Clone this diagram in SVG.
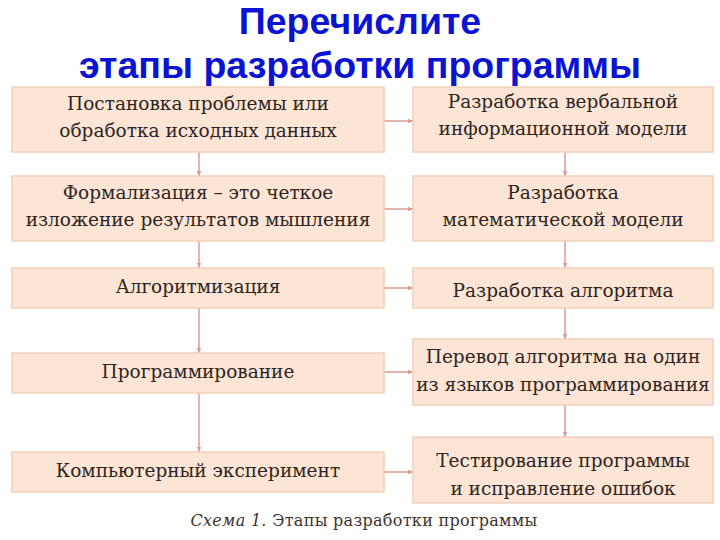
<svg xmlns="http://www.w3.org/2000/svg" width="720" height="540" viewBox="0 0 720 540">
<style>
.title{font-family:"Liberation Sans",Arial,sans-serif;font-weight:bold;font-size:37.5px;fill:#0a14d2;text-anchor:middle}
.box{fill:#fde5d6;stroke:#f1cfbb;stroke-width:1.5}
.t{font-family:"DejaVu Serif","Liberation Serif",serif;font-size:18.5px;fill:#2e2420;text-anchor:middle}
.cap{font-family:"DejaVu Serif","Liberation Serif",serif;font-size:16px;fill:#3e322c;text-anchor:middle;letter-spacing:0.3px}
.c{stroke:#dc9a90;stroke-width:1.5;fill:none;marker-end:url(#ah)}
</style>
<defs>
<marker id="ah" viewBox="0 0 10 10" refX="9" refY="5" markerWidth="6" markerHeight="6" orient="auto" markerUnits="userSpaceOnUse">
<path d="M0,1 L10,5 L0,9 Z" fill="#dc9a90"/>
</marker>
</defs>
<rect width="720" height="540" fill="#ffffff"/>
<text class="title" x="360" y="34">Перечислите</text>
<text class="title" x="360" y="78">этапы разработки программы</text>

<g id="connectors">
<line class="c" x1="199" y1="152" x2="199" y2="176"/>
<line class="c" x1="199" y1="241" x2="199" y2="268"/>
<line class="c" x1="199" y1="308" x2="199" y2="353"/>
<line class="c" x1="199" y1="393" x2="199" y2="452"/>
<line class="c" x1="565" y1="152" x2="565" y2="176"/>
<line class="c" x1="565" y1="241" x2="565" y2="268"/>
<line class="c" x1="565" y1="308" x2="565" y2="339"/>
<line class="c" x1="565" y1="405" x2="565" y2="437"/>
<line class="c" x1="384" y1="121" x2="413" y2="121"/>
<line class="c" x1="384" y1="209" x2="413" y2="209"/>
<line class="c" x1="384" y1="288" x2="413" y2="288"/>
<line class="c" x1="384" y1="372" x2="413" y2="372"/>
<line class="c" x1="384" y1="472" x2="413" y2="472"/>
</g>

<g id="n1"><rect class="box" x="12" y="87" width="372" height="65"/>
<text class="t" x="198" y="110">Постановка проблемы или</text>
<text class="t" x="198" y="137">обработка исходных данных</text></g>
<g id="n2"><rect class="box" x="12" y="176" width="372" height="65"/>
<text class="t" x="198" y="199">Формализация – это четкое</text>
<text class="t" x="198" y="226">изложение результатов мышления</text></g>
<g id="n3"><rect class="box" x="12" y="268" width="372" height="40"/>
<text class="t" x="198" y="293">Алгоритмизация</text></g>
<g id="n4"><rect class="box" x="12" y="353" width="372" height="40"/>
<text class="t" x="198" y="378">Программирование</text></g>
<g id="n5"><rect class="box" x="12" y="452" width="372" height="40"/>
<text class="t" x="198" y="477">Компьютерный эксперимент</text></g>

<g id="r1"><rect class="box" x="413" y="87" width="300" height="65"/>
<text class="t" x="563" y="108">Разработка вербальной</text>
<text class="t" x="563" y="135">информационной модели</text></g>
<g id="r2"><rect class="box" x="413" y="176" width="300" height="65"/>
<text class="t" x="563" y="199">Разработка</text>
<text class="t" x="563" y="226">математической модели</text></g>
<g id="r3"><rect class="box" x="413" y="268" width="300" height="40"/>
<text class="t" x="563" y="297">Разработка алгоритма</text></g>
<g id="r4"><rect class="box" x="413" y="339" width="300" height="66"/>
<text class="t" x="563" y="363">Перевод алгоритма на один</text>
<text class="t" x="563" y="391">из языков программирования</text></g>
<g id="r5"><rect class="box" x="413" y="437" width="300" height="66"/>
<text class="t" x="563" y="467">Тестирование программы</text>
<text class="t" x="563" y="495">и исправление ошибок</text></g>

<text class="cap" x="364" y="526"><tspan font-style="italic">Схема 1.</tspan> Этапы разработки программы</text>
</svg>
